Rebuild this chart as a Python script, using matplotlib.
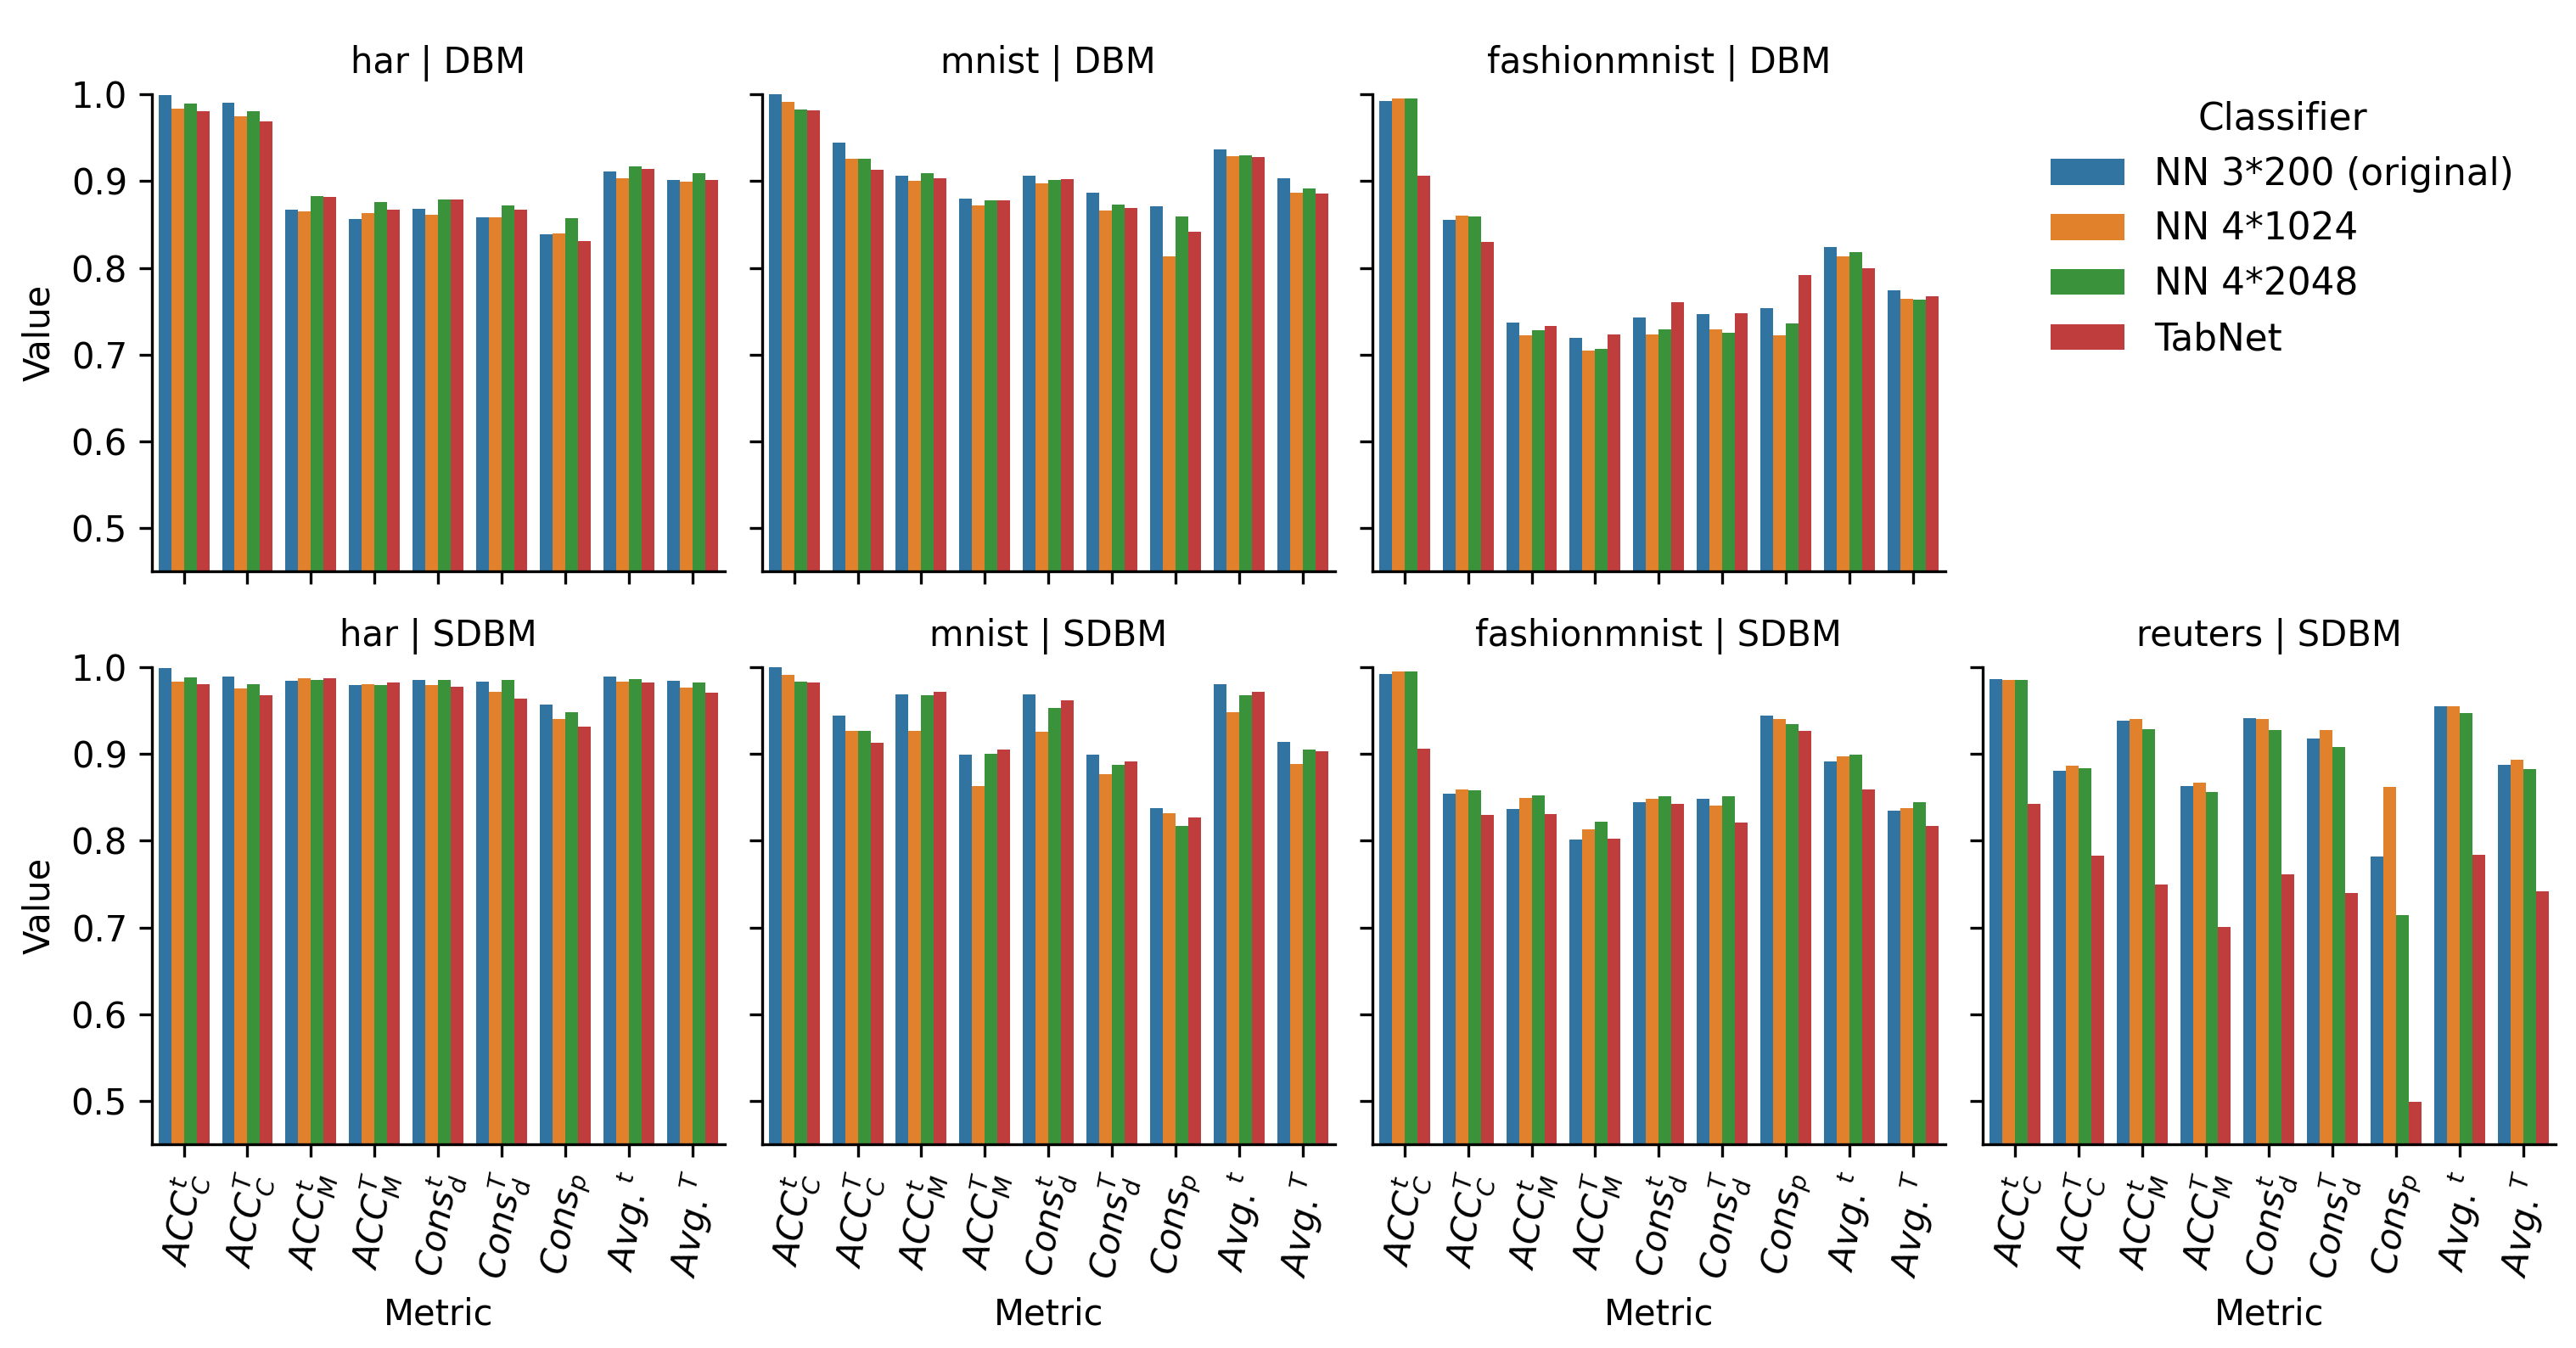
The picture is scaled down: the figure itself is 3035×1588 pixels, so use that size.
import numpy as np
import matplotlib
matplotlib.use("Agg")
import matplotlib.pyplot as plt

metrics = [r'$ACC_C^t$', r'$ACC_C^T$', r'$ACC_M^t$', r'$ACC_M^T$',
           r'$Cons_d^t$', r'$Cons_d^T$', r'$Cons_p$', r'$Avg.^t$', r'$Avg.^T$']
classifiers = ['NN 3*200 (original)', 'NN 4*1024', 'NN 4*2048', 'TabNet']
colors = ['#3274a1', '#e1812c', '#3a923a', '#c03d3e']

# rows: classifiers, columns: metrics
har_dbm = [[0.999, 0.990, 0.867, 0.856, 0.868, 0.858, 0.839, 0.911, 0.901],
           [0.984, 0.975, 0.865, 0.863, 0.861, 0.858, 0.840, 0.903, 0.899],
           [0.989, 0.981, 0.883, 0.876, 0.879, 0.872, 0.857, 0.917, 0.909],
           [0.981, 0.969, 0.882, 0.867, 0.879, 0.867, 0.831, 0.914, 0.901]]
mnist_dbm = [[1.000, 0.944, 0.906, 0.880, 0.906, 0.887, 0.871, 0.937, 0.903],
             [0.991, 0.926, 0.900, 0.872, 0.897, 0.866, 0.813, 0.929, 0.887],
             [0.983, 0.926, 0.909, 0.878, 0.901, 0.873, 0.859, 0.930, 0.892],
             [0.982, 0.913, 0.903, 0.878, 0.902, 0.869, 0.842, 0.928, 0.886]]
fashion_dbm = [[0.992, 0.855, 0.737, 0.719, 0.743, 0.747, 0.754, 0.824, 0.774],
               [0.995, 0.860, 0.722, 0.705, 0.723, 0.729, 0.722, 0.813, 0.764],
               [0.995, 0.859, 0.728, 0.707, 0.729, 0.725, 0.736, 0.818, 0.763],
               [0.906, 0.830, 0.733, 0.723, 0.761, 0.748, 0.792, 0.800, 0.767]]
har_sdbm = [[0.999, 0.989, 0.984, 0.979, 0.985, 0.983, 0.957, 0.989, 0.984],
            [0.983, 0.975, 0.987, 0.980, 0.979, 0.972, 0.940, 0.983, 0.976],
            [0.988, 0.980, 0.985, 0.979, 0.985, 0.985, 0.948, 0.986, 0.982],
            [0.980, 0.968, 0.987, 0.982, 0.977, 0.964, 0.931, 0.982, 0.971]]
mnist_sdbm = [[1.000, 0.944, 0.969, 0.899, 0.969, 0.899, 0.838, 0.980, 0.914],
              [0.991, 0.927, 0.927, 0.863, 0.926, 0.877, 0.832, 0.948, 0.888],
              [0.983, 0.927, 0.968, 0.900, 0.953, 0.887, 0.817, 0.968, 0.905],
              [0.982, 0.913, 0.972, 0.905, 0.962, 0.891, 0.827, 0.972, 0.903]]
fashion_sdbm = [[0.992, 0.854, 0.837, 0.801, 0.844, 0.848, 0.944, 0.891, 0.835],
                [0.995, 0.859, 0.849, 0.813, 0.848, 0.840, 0.940, 0.897, 0.838],
                [0.995, 0.858, 0.852, 0.822, 0.851, 0.851, 0.934, 0.899, 0.844],
                [0.906, 0.830, 0.831, 0.802, 0.842, 0.821, 0.927, 0.859, 0.817]]
reuters_sdbm = [[0.986, 0.881, 0.938, 0.863, 0.941, 0.918, 0.782, 0.955, 0.887],
                [0.985, 0.886, 0.940, 0.867, 0.940, 0.928, 0.862, 0.955, 0.893],
                [0.985, 0.884, 0.929, 0.856, 0.928, 0.908, 0.714, 0.947, 0.883],
                [0.842, 0.783, 0.750, 0.701, 0.761, 0.740, 0.499, 0.784, 0.742]]

panels = {(0, 0): ('har | DBM', har_dbm),
          (0, 1): ('mnist | DBM', mnist_dbm),
          (0, 2): ('fashionmnist | DBM', fashion_dbm),
          (1, 0): ('har | SDBM', har_sdbm),
          (1, 1): ('mnist | SDBM', mnist_sdbm),
          (1, 2): ('fashionmnist | SDBM', fashion_sdbm),
          (1, 3): ('reuters | SDBM', reuters_sdbm)}

plt.rcParams.update({'font.size': 10})

fig, axes = plt.subplots(2, 4, figsize=(3035 / 300, 1588 / 300), dpi=300,
                         sharex=True, sharey=True)
fig.subplots_adjust(left=0.059, right=0.992, top=0.930, bottom=0.151,
                    wspace=0.066, hspace=0.2)

x = np.arange(len(metrics))
w = 0.8 / len(classifiers)
handles = []
for (r, c), (title, vals) in panels.items():
    ax = axes[r, c]
    for i, name in enumerate(classifiers):
        b = ax.bar(x - 0.4 + w * (i + 0.5), vals[i], width=w, color=colors[i],
                   label=name)
        if (r, c) == (0, 0):
            handles.append(b)
    ax.set_title(title, fontsize=10)
    ax.spines['top'].set_visible(False)
    ax.spines['right'].set_visible(False)

ax0 = axes[0, 0]
ax0.set_ylim(0.45, 1.0)
ax0.set_xlim(-0.5, len(metrics) - 0.5)
ax0.set_yticks([0.5, 0.6, 0.7, 0.8, 0.9, 1.0])
ax0.set_xticks(x)

for c in range(4):
    axes[1, c].set_xticks(x)
    axes[1, c].set_xticklabels(metrics, rotation=80, fontsize=10)
    axes[1, c].set_xlabel('Metric')
    axes[1, c].tick_params(axis='x', labelbottom=True)
for r in range(2):
    axes[r, 0].set_ylabel('Value')

axes[0, 3].remove()

fig.legend(handles, classifiers, title='Classifier', loc='upper left',
           bbox_to_anchor=(0.783, 0.95), frameon=False,
           fontsize=10.5, title_fontsize=10.5)

fig.savefig('out.png', dpi=300)
